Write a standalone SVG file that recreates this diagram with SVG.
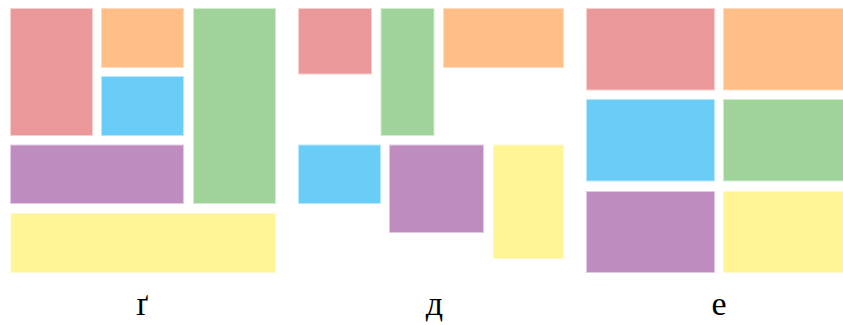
<svg xmlns="http://www.w3.org/2000/svg" width="843" height="325" viewBox="0 0 843 325">
<style>
rect{stroke-width:1}
.r{fill:#ea9899;stroke:#f6d0d0}
.o{fill:#ffbf86;stroke:#ffdcc0}
.b{fill:#69cdf7;stroke:#b8e8fb}
.g{fill:#9fd39a;stroke:#d3ecd0}
.p{fill:#bf8cc0;stroke:#e2cbe2}
.y{fill:#fff594;stroke:#fffacc}
text{font-family:"Liberation Serif","DejaVu Serif",serif;font-size:34px;fill:#000;text-anchor:middle}
</style>
<rect width="843" height="325" fill="#fff"/>
<g id="panel-g">
<rect id="g-red" class="r" x="10.5" y="8.5" width="82" height="127"/>
<rect id="g-orange" class="o" x="101.5" y="8.5" width="82" height="59"/>
<rect id="g-blue" class="b" x="101.5" y="76.5" width="82" height="59"/>
<rect id="g-green" class="g" x="193.5" y="8.5" width="82" height="195"/>
<rect id="g-purple" class="p" x="10.5" y="145" width="173" height="58.5"/>
<rect id="g-yellow" class="y" x="11" y="213.5" width="264.5" height="59"/>
<text x="142" y="315">ґ</text>
</g>
<g id="panel-d">
<rect id="d-red" class="r" x="298.5" y="8.5" width="73" height="65.5"/>
<rect id="d-green" class="g" x="381" y="8.5" width="53" height="127"/>
<rect id="d-orange" class="o" x="443.5" y="8.5" width="120" height="59"/>
<rect id="d-blue" class="b" x="298.5" y="145" width="82" height="58.5"/>
<rect id="d-purple" class="p" x="389.5" y="145" width="94" height="87.5"/>
<rect id="d-yellow" class="y" x="493.5" y="145" width="70" height="113.5"/>
<text x="434.5" y="315">д</text>
</g>
<g id="panel-e">
<rect id="e-red" class="r" x="586.5" y="8.5" width="128" height="81.5"/>
<rect id="e-orange" class="o" x="723.5" y="8.5" width="128" height="81.5"/>
<rect id="e-blue" class="b" x="586.5" y="99.5" width="128" height="81.5"/>
<rect id="e-green" class="g" x="723.5" y="99.5" width="128" height="81.5"/>
<rect id="e-purple" class="p" x="586.5" y="191.5" width="128" height="81"/>
<rect id="e-yellow" class="y" x="723.5" y="191.5" width="128" height="81"/>
<text x="719" y="315">е</text>
</g>
<g id="connectors"/>
</svg>
